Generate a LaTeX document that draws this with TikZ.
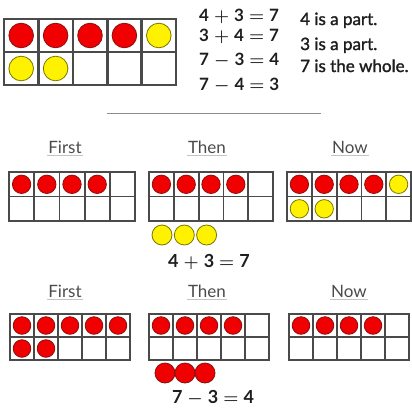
\documentclass[tikz,border=0pt]{standalone}
\usepackage{fontspec}
\setmainfont{Lato}
\newfontfamily\semibold[FakeBold=1.6]{Lato}
\usetikzlibrary{positioning}
\definecolor{tfGrid}{HTML}{4A4A4A}
\definecolor{tfRed}{HTML}{F00000}
\definecolor{tfRedEdge}{HTML}{8A1010}
\definecolor{tfYellow}{HTML}{FFF200}
\definecolor{tfYellowEdge}{HTML}{7A7400}
\definecolor{tfInk}{HTML}{1E1E1E}
\definecolor{tfRule}{HTML}{8C8C8C}
\definecolor{tfUnder}{HTML}{C4C4C4}
\newcommand{\gap}{\hspace{5pt}}
\newcommand{\plus}{\gap$+$\gap}
\newcommand{\minus}{\gap$-$\gap}
\newcommand{\equals}{\gap$=$\gap}
% ten-frame: x0, y0, x1, y1, line width
\newcommand{\tenframe}[5]{%
  \foreach \k in {1,...,4}
    \draw[tfGrid,line width=#5] ({#1+\k*(#3-#1)/5},#2) -- ({#1+\k*(#3-#1)/5},#4);
  \draw[tfGrid,line width=#5] (#1,{(#2+#4)/2}) -- (#3,{(#2+#4)/2});
  \draw[tfGrid,line width=#5] (#1,#2) rectangle (#3,#4);
}

\begin{document}
\begin{tikzpicture}[x=1pt,y=-1pt,
    redc/.style={fill=tfRed,draw=tfRedEdge,line width=0.8pt},
    yelc/.style={fill=tfYellow,draw=tfYellowEdge,line width=0.8pt},
    eqn/.style={text=tfInk,font=\fontsize{17}{20}\selectfont\bfseries\boldmath,inner sep=0pt},
    bigeqn/.style={eqn,anchor=base,font=\fontsize{18}{21}\selectfont\bfseries\boldmath},
    fact/.style={text=tfInk,font=\fontsize{17}{20}\selectfont\semibold,inner sep=0pt,anchor=base west},
    lbl/.style={text=tfInk!80,font=\fontsize{17}{20}\selectfont,inner xsep=1pt,inner ysep=2.5pt,anchor=base},
    uline/.style={tfUnder,line width=1.2pt}]
  \useasboundingbox (0,0) rectangle (412,410);
  % top: the frame for 4 and 3
  \tenframe{4}{19}{176}{85}{2.6pt}
  \foreach \c in {0,...,3} \path[redc] ({21.2+34.4*\c},35.5) circle (12.3pt);
  \path[yelc] (158.8,35.5) circle (12.3pt);
  \foreach \c in {0,1} \path[yelc] ({21.2+34.4*\c},68.5) circle (12.3pt);
  \node[eqn,anchor=base west] (eqa) at (199,21) {4\plus3\equals7};
  \node[eqn,anchor=base west] (eqb) at (199,41) {3\plus4\equals7};
  \node[eqn,anchor=base west] (eqc) at (199,65) {7\minus3\equals4};
  \node[eqn,anchor=base west] (eqd) at (199,90) {7\minus4\equals3};
  \node[fact] (parta) at (300,25) {4 is a part.};
  \node[fact] (partb) at (300,50) {3 is a part.};
  \node[fact] (whole) at (300,72) {7 is the whole.};
  \coordinate (rulel) at (107,113);
  \coordinate (ruler) at (321,113);
  \draw[tfRule,line width=1pt] (rulel) -- (ruler);

  % adding story
  \node[lbl] (first1) at (65,153) {First};
  \node[lbl] (then1) at (207,153) {Then};
  \node[lbl] (now1) at (350,153) {Now};
  \foreach \n in {first1,then1,now1} \draw[uline] (\n.south west) -- (\n.south east);
  \tenframe{9}{172}{135}{221}{1.8pt}
  \foreach \c in {0,...,3} \path[redc] ({21.6+25.2*\c},184.3) circle (9.2pt);
  \tenframe{149}{172}{273}{221}{1.8pt}
  \foreach \c in {0,...,3} \path[redc] ({161.4+24.8*\c},184.3) circle (9.2pt);
  \tenframe{287}{172}{411}{221}{1.8pt}
  \foreach \c in {0,...,3} \path[redc] ({299.4+24.8*\c},184.3) circle (9.2pt);
  \path[yelc] (398.6,184.3) circle (9.2pt);
  \foreach \c in {0,1} \path[yelc] ({299.4+24.8*\c},208.8) circle (9.2pt);
  \foreach \c in {0,1,2} \path[yelc] ({162+22.3*\c},235) circle (10pt);
  \node[bigeqn] (sum) at (209,267) {4\plus3\equals7};

  % taking-away story
  \node[lbl] (first2) at (65,297) {First};
  \node[lbl] (then2) at (207,297) {Then};
  \node[lbl] (now2) at (349,297) {Now};
  \foreach \n in {first2,then2,now2} \draw[uline] (\n.south west) -- (\n.south east);
  \tenframe{10}{314}{130}{360}{1.8pt}
  \foreach \c in {0,...,4} \path[redc] ({22+24*\c},325.5) circle (8.8pt);
  \foreach \c in {0,1} \path[redc] ({22+24*\c},348.5) circle (8.8pt);
  \tenframe{149}{314}{269}{360}{1.8pt}
  \foreach \c in {0,...,3} \path[redc] ({161+24*\c},325.5) circle (8.8pt);
  \tenframe{289}{314}{409}{360}{1.8pt}
  \foreach \c in {0,...,3} \path[redc] ({301+24*\c},325.5) circle (8.8pt);
  \foreach \c in {0,1,2} \path[redc] ({165+20*\c},373) circle (10pt);
  \node[bigeqn] (diff) at (213,403) {7\minus3\equals4};
\end{tikzpicture}
\end{document}
